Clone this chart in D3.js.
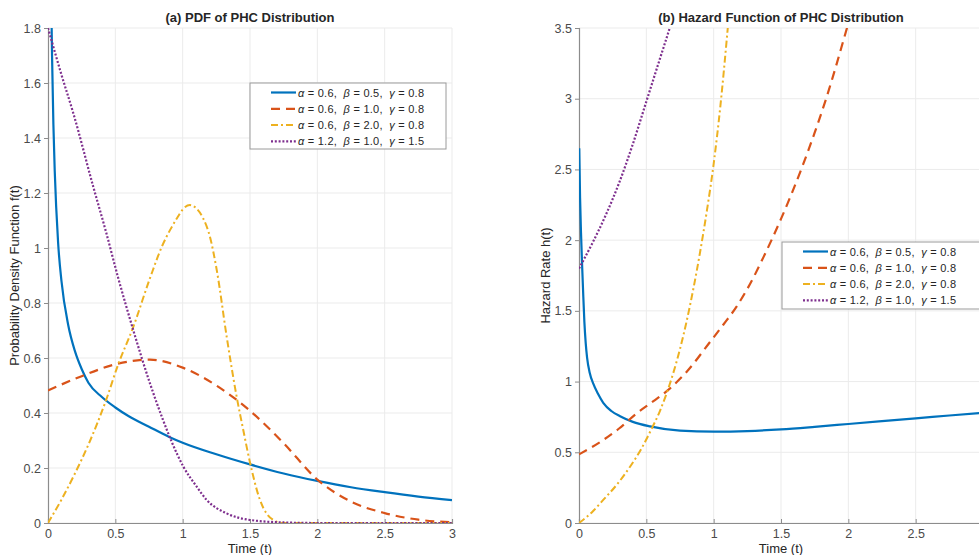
<!DOCTYPE html>
<html>
<head>
<meta charset="utf-8">
<script src="https://cdn.jsdelivr.net/npm/d3@7/dist/d3.min.js"></script>
<style>
  body { margin: 0; background: #fff; }
  text { font-family: "Liberation Sans", Arial, sans-serif; }
</style>
</head>
<body>
<div id="wrapper"></div>
<script>
/* global d3 */

// ---- data ----
const seriesLabels = [
  ["0.6", "0.5", "0.8"],
  ["0.6", "1.0", "0.8"],
  ["0.6", "2.0", "0.8"],
  ["1.2", "1.0", "1.5"],
];

// (a) PDF
const pdfT1 = [0.01, 0.02, 0.03, 0.04, 0.05, 0.075, 0.1, 0.15, 0.2, 0.25, 0.3, 0.4, 0.5, 0.6, 0.75, 0.9, 1.0, 1.25, 1.5, 1.75, 2.0, 2.25, 2.5, 2.75, 3.0];
const pdfF1 = [2.6, 2.05, 1.7, 1.45, 1.28, 1.02, 0.88, 0.72, 0.625, 0.56, 0.51, 0.458, 0.42, 0.388, 0.35, 0.313, 0.292, 0.25, 0.213, 0.18, 0.153, 0.13, 0.112, 0.096, 0.083];
const pdfT2 = [0, 0.25, 0.5, 0.757, 1.0, 1.25, 1.5, 1.75, 2.0, 2.25, 2.5, 2.75, 3.0];
const pdfF2 = [0.482, 0.534, 0.577, 0.594, 0.565, 0.5, 0.408, 0.29, 0.158, 0.078, 0.036, 0.012, 0.003];
const pdfT3 = [0, 0.1, 0.2, 0.3, 0.43, 0.52, 0.634, 0.757, 0.85, 0.906, 0.96, 1.0, 1.054, 1.1, 1.15, 1.203, 1.253, 1.327, 1.401, 1.45, 1.5, 1.574, 1.673, 1.75, 3.0];
const pdfF3 = [0, 0.085, 0.18, 0.285, 0.445, 0.575, 0.714, 0.89, 1.01, 1.065, 1.11, 1.14, 1.156, 1.145, 1.11, 1.04, 0.92, 0.677, 0.459, 0.338, 0.22, 0.084, 0.011, 0.0, 0.0];
const pdfT4 = [0, 0.1, 0.188, 0.336, 0.43, 0.522, 0.634, 0.757, 0.85, 0.918, 1.005, 1.1, 1.178, 1.327, 1.5, 1.75, 2.0, 3.0];
const pdfF4 = [1.8, 1.63, 1.49, 1.223, 1.06, 0.89, 0.7, 0.508, 0.38, 0.296, 0.205, 0.135, 0.084, 0.035, 0.011, 0.002, 0, 0];

// (b) hazard
const hzT1 = [0.002, 0.008, 0.015, 0.022, 0.03, 0.04, 0.05, 0.06, 0.08, 0.106, 0.14, 0.18, 0.24, 0.305, 0.4, 0.527, 0.75, 1.0, 1.25, 1.5, 1.75, 2.0, 2.25, 2.5, 2.75, 3.0];
const hzH1 = [2.65, 2.3, 2.05, 1.85, 1.65, 1.42, 1.27, 1.17, 1.06, 0.985, 0.915, 0.85, 0.792, 0.755, 0.715, 0.683, 0.653, 0.646, 0.65, 0.662, 0.68, 0.7, 0.72, 0.74, 0.76, 0.78];
const hzT2 = [0, 0.18, 0.3, 0.429, 0.55, 0.676, 0.8, 0.973, 1.07, 1.17, 1.27, 1.37, 1.5, 1.65, 1.75, 1.835, 1.99, 2.05];
const hzH2 = [0.485, 0.587, 0.67, 0.776, 0.86, 0.952, 1.07, 1.28, 1.4, 1.53, 1.69, 1.88, 2.15, 2.5, 2.76, 3.0, 3.5, 3.7];
const hzT3 = [0, 0.1, 0.18, 0.28, 0.379, 0.46, 0.535, 0.6, 0.65, 0.7, 0.75, 0.8, 0.85, 0.9, 0.95, 1.0, 1.05, 1.1, 1.15];
const hzH3 = [0, 0.08, 0.163, 0.27, 0.398, 0.52, 0.658, 0.79, 0.915, 1.06, 1.23, 1.43, 1.66, 1.92, 2.21, 2.54, 2.95, 3.45, 4.0];
const hzT4 = [0, 0.1, 0.2, 0.3, 0.4, 0.5, 0.6, 0.68, 0.75];
const hzH4 = [1.8, 1.98, 2.18, 2.41, 2.68, 2.98, 3.28, 3.52, 3.75];

const xTicksA = [0, 0.5, 1, 1.5, 2, 2.5, 3];
const xTicksB = [0, 0.5, 1, 1.5, 2, 2.5];
const pdfTicks = [0, 0.2, 0.4, 0.6, 0.8, 1, 1.2, 1.4, 1.6, 1.8];
const hzTicks = [0, 0.5, 1, 1.5, 2, 2.5, 3, 3.5];

// ---- styling ----
const colors = ["#0072BD", "#D95319", "#EDB120", "#7E2F8E"];
const dashes = [null, "9,6", "7,3,2,3", "2,1.8"];
const widths = [2.2, 2.2, 2, 2.2];

const width = 979;
const height = 555;

const svg = d3.select("#wrapper")
  .append("svg")
  .attr("width", width)
  .attr("height", height);

const zip = (ts, vs) => ts.map((t, i) => [t, vs[i]]);

const panels = [
  {
    id: "a",
    left: 48, right: 452, top: 28, bottom: 523,
    yMax: 1.8, yTicks: pdfTicks, xTicks: xTicksA,
    title: "(a) PDF of PHC Distribution",
    yLabel: "Probability Density Function f(t)",
    series: [zip(pdfT1, pdfF1), zip(pdfT2, pdfF2), zip(pdfT3, pdfF3), zip(pdfT4, pdfF4)],
    legend: { x: 250, y: 83, w: 196, h: 66 },
    yLabelX: 19,
  },
  {
    id: "b",
    left: 579, right: 983, top: 28, bottom: 523,
    yMax: 3.5, yTicks: hzTicks, xTicks: xTicksB,
    title: "(b) Hazard Function of PHC Distribution",
    yLabel: "Hazard Rate h(t)",
    series: [zip(hzT1, hzH1), zip(hzT2, hzH2), zip(hzT3, hzH3), zip(hzT4, hzH4)],
    legend: { x: 782, y: 242, w: 200, h: 67 },
    yLabelX: 550,
  },
];

const fmt = (d) => (d === 0 ? "0" : String(d));

panels.forEach((p) => {
  const xScale = d3.scaleLinear().domain([0, 3]).range([p.left, p.right]);
  const yScale = d3.scaleLinear().domain([0, p.yMax]).range([p.bottom, p.top]);

  const g = svg.append("g");

  // grid
  g.append("g")
    .selectAll("line")
    .data([0.5, 1, 1.5, 2, 2.5, 3])
    .join("line")
    .attr("x1", (d) => xScale(d)).attr("x2", (d) => xScale(d))
    .attr("y1", p.top).attr("y2", p.bottom)
    .attr("stroke", "#ebebeb").attr("stroke-width", 1);
  g.append("g")
    .selectAll("line")
    .data(p.yTicks)
    .join("line")
    .attr("x1", p.left).attr("x2", p.right)
    .attr("y1", (d) => yScale(d)).attr("y2", (d) => yScale(d))
    .attr("stroke", "#ebebeb").attr("stroke-width", 1);

  // axes
  const xAxis = d3.axisBottom(xScale).tickValues(p.xTicks).tickFormat(fmt).tickSize(-4).tickPadding(6);
  const yAxis = d3.axisLeft(yScale).tickValues(p.yTicks).tickFormat(fmt).tickSize(4).tickPadding(3);

  const gx = g.append("g")
    .attr("transform", `translate(0,${p.bottom})`)
    .call(xAxis);
  const gy = g.append("g")
    .attr("transform", `translate(${p.left},0)`)
    .call(yAxis);

  [gx, gy].forEach((ax) => {
    ax.select(".domain").attr("stroke", "#8c8c8c").attr("stroke-width", 1.2);
    ax.selectAll(".tick line").attr("stroke", "#8c8c8c");
    ax.selectAll(".tick text")
      .attr("fill", "#4a4a4a")
      .style("font-size", "12.5px")
      .style("font-family", "Liberation Sans, Arial, sans-serif");
  });

  // curves
  const clipId = `clip-${p.id}`;
  svg.append("clipPath")
    .attr("id", clipId)
    .append("rect")
    .attr("x", p.left).attr("y", p.top)
    .attr("width", p.right - p.left).attr("height", p.bottom - p.top);

  const line = d3.line()
    .x((d) => xScale(d[0]))
    .y((d) => yScale(d[1]))
    .curve(d3.curveMonotoneX);

  g.append("g")
    .attr("clip-path", `url(#${clipId})`)
    .selectAll("path")
    .data(p.series)
    .join("path")
    .attr("d", line)
    .attr("fill", "none")
    .attr("stroke", (d, i) => colors[i])
    .attr("stroke-width", (d, i) => widths[i])
    .attr("stroke-dasharray", (d, i) => dashes[i]);

  // title & labels
  g.append("text")
    .attr("x", (p.left + p.right) / 2)
    .attr("y", 22)
    .attr("text-anchor", "middle")
    .style("font-size", "13px")
    .style("font-weight", "bold")
    .attr("fill", "#262626")
    .text(p.title);

  g.append("text")
    .attr("x", (p.left + p.right) / 2)
    .attr("y", 553)
    .attr("text-anchor", "middle")
    .style("font-size", "13px")
    .attr("fill", "#262626")
    .text("Time (t)");

  g.append("text")
    .attr("transform", `translate(${p.yLabelX},${(p.top + p.bottom) / 2}) rotate(-90)`)
    .attr("text-anchor", "middle")
    .style("font-size", "13px")
    .attr("fill", "#262626")
    .text(p.yLabel);

  // legend
  const lg = g.append("g").attr("transform", `translate(${p.legend.x},${p.legend.y})`);
  lg.append("rect")
    .attr("width", p.legend.w).attr("height", p.legend.h)
    .attr("fill", "#fff")
    .attr("stroke", "#9a9a9a").attr("stroke-width", 1);

  seriesLabels.forEach((vals, i) => {
    const ry = 9.5 + i * 16.3;
    lg.append("line")
      .attr("x1", 21).attr("x2", 46)
      .attr("y1", ry).attr("y2", ry)
      .attr("stroke", colors[i])
      .attr("stroke-width", widths[i])
      .attr("stroke-dasharray", dashes[i]);

    const t = lg.append("text")
      .attr("x", 48).attr("y", ry + 4)
      .style("font-size", "11px")
      .attr("fill", "#262626")
      .attr("textLength", 126)
      .attr("lengthAdjust", "spacing")
      .attr("xml:space", "preserve");
    const names = ["α", "β", "γ"];
    names.forEach((n, k) => {
      t.append("tspan").style("font-style", "italic").text(n);
      t.append("tspan").text(` = ${vals[k]}${k < 2 ? ",  " : ""}`);
    });
  });
});
</script>
</body>
</html>
